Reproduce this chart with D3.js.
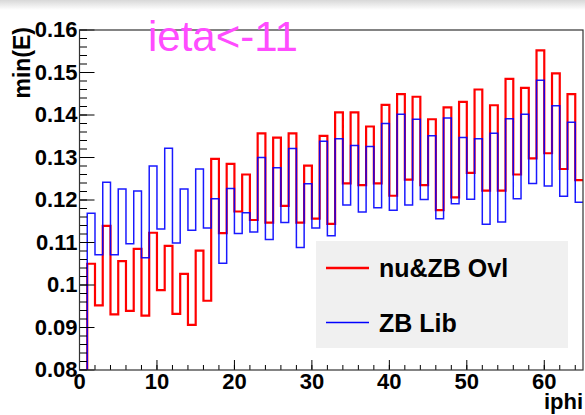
<!DOCTYPE html>
<html>
<head>
<meta charset="utf-8">
<script src="https://cdn.jsdelivr.net/npm/d3@7"></script>
<style>
  body { margin: 0; background: #fff; }
  text { font-family: "Liberation Sans", Arial, Helvetica, sans-serif; }
</style>
</head>
<body>
<div id="chart"></div>
<script>
// bin 0 is empty, bins 1..64 are filled
const ovlValues = [0,
  0.105, 0.0952, 0.1139, 0.0931, 0.1056, 0.0939, 0.1085, 0.0928, 0.1123, 0.0988,
  0.1092, 0.0932, 0.1026, 0.0906, 0.1081, 0.0963, 0.1297, 0.1122, 0.1285, 0.1173,
  0.126, 0.1153, 0.1357, 0.1147, 0.1347, 0.1186, 0.1357, 0.1147, 0.1281, 0.1156,
  0.1351, 0.1144, 0.1406, 0.1239, 0.1406, 0.1235, 0.1373, 0.1239, 0.1424, 0.121,
  0.1449, 0.1248, 0.1443, 0.1235, 0.139, 0.1176, 0.1418, 0.1206, 0.1431, 0.1264,
  0.146, 0.1222, 0.1423, 0.1222, 0.1485, 0.126, 0.1464, 0.1298, 0.1552, 0.131,
  0.1498, 0.1273, 0.1449, 0.1247];
const libValues = [0,
  0.1169, 0.1071, 0.1242, 0.1071, 0.1226, 0.1097, 0.1221, 0.1064, 0.128, 0.1132,
  0.1322, 0.1099, 0.1226, 0.1129, 0.1273, 0.1134, 0.1203, 0.1051, 0.1227, 0.1121,
  0.117, 0.1125, 0.13, 0.1107, 0.1276, 0.1147, 0.1321, 0.1088, 0.1238, 0.1134,
  0.1338, 0.1116, 0.1344, 0.1188, 0.1328, 0.1172, 0.1326, 0.1182, 0.138, 0.1176,
  0.1402, 0.1188, 0.139, 0.1201, 0.1351, 0.1156, 0.1393, 0.1191, 0.1347, 0.1202,
  0.1344, 0.1143, 0.1357, 0.1148, 0.1391, 0.1203, 0.1402, 0.1239, 0.1482, 0.1233,
  0.1422, 0.1209, 0.1383, 0.1195];
const seriesNames = ['nu&ZB Ovl', 'ZB Lib'];
const xTicks = [0, 10, 20, 30, 40, 50, 60];
const yTicks = [0.08, 0.09, 0.1, 0.11, 0.12, 0.13, 0.14, 0.15, 0.16];
const yTickLabels = ['0.08', '0.09', '0.1', '0.11', '0.12', '0.13', '0.14', '0.15', '0.16'];

const W = 585, H = 415;
const margin = {top: 30, right: 2, bottom: 45, left: 79.5};

const svg = d3.select('#chart').append('svg')
  .attr('width', W).attr('height', H);

// faint window shadow along the top edge
const grad = svg.append('defs').append('linearGradient')
  .attr('id', 'topShade').attr('x1', 0).attr('y1', 0).attr('x2', 0).attr('y2', 1);
grad.append('stop').attr('offset', 0).attr('stop-color', '#d8d8d8');
grad.append('stop').attr('offset', 1).attr('stop-color', '#fff');
svg.append('rect').attr('width', W).attr('height', 10).attr('fill', 'url(#topShade)');

const x = d3.scaleLinear().domain([0, 65]).range([margin.left, W - margin.right]);
const y = d3.scaleLinear().domain([0.08, 0.16]).range([H - margin.bottom, margin.top]);

svg.append('defs').append('clipPath').attr('id', 'plotClip')
  .append('rect')
  .attr('x', x(0)).attr('y', y(0.16))
  .attr('width', x(65) - x(0)).attr('height', y(0.08) - y(0.16));

// step outline like a ROOT histogram
function histPath(values) {
  const clamp = v => Math.max(v, 0.08);
  let p = d3.path();
  p.moveTo(x(0), y(clamp(values[0])));
  values.forEach((v, i) => {
    p.lineTo(x(i), y(clamp(v)));
    p.lineTo(x(i + 1), y(clamp(v)));
  });
  return p.toString();
}

const plot = svg.append('g').attr('clip-path', 'url(#plotClip)');
plot.append('path').attr('d', histPath(ovlValues))
  .attr('fill', 'none').attr('stroke', '#ff0000').attr('stroke-width', 2.2);
plot.append('path').attr('d', histPath(libValues))
  .attr('fill', 'none').attr('stroke', '#0000ff').attr('stroke-width', 1.5)
  .attr('stroke-opacity', 0.9);

// axes
const xMinor = d3.range(0, 65, 2);
const yMinor = d3.range(0.08, 0.1601, 0.002);

const xAxis = svg.append('g').attr('transform', `translate(0,${y(0.08)})`);
xAxis.selectAll('.minor').data(xMinor).enter().append('line')
  .attr('x1', d => x(d)).attr('x2', d => x(d)).attr('y1', 0).attr('y2', -5)
  .attr('stroke', '#000');
xAxis.selectAll('.major').data(xTicks).enter().append('line')
  .attr('x1', d => x(d)).attr('x2', d => x(d)).attr('y1', 0).attr('y2', -10)
  .attr('stroke', '#000');
xAxis.selectAll('text').data(xTicks).enter().append('text')
  .attr('x', d => x(d)).attr('y', 19)
  .attr('text-anchor', 'middle').attr('font-size', 22).attr('font-weight', 'bold')
  .text(d => d);

const yAxis = svg.append('g').attr('transform', `translate(${x(0)},0)`);
yAxis.selectAll('.minor').data(yMinor).enter().append('line')
  .attr('x1', 0).attr('x2', 7.5).attr('y1', d => y(d)).attr('y2', d => y(d))
  .attr('stroke', '#000');
yAxis.selectAll('.major').data(yTicks).enter().append('line')
  .attr('x1', 0).attr('x2', 15).attr('y1', d => y(d)).attr('y2', d => y(d))
  .attr('stroke', '#000');
yAxis.selectAll('text').data(yTicks).enter().append('text')
  .attr('x', -2).attr('y', d => y(d) + 7)
  .attr('text-anchor', 'end').attr('font-size', 22).attr('font-weight', 'bold')
  .text((d, i) => yTickLabels[i]);

// frame
svg.append('rect')
  .attr('x', x(0)).attr('y', y(0.16))
  .attr('width', x(65) - x(0)).attr('height', y(0.08) - y(0.16))
  .attr('fill', 'none').attr('stroke', '#333').attr('stroke-width', 1.2);

// axis titles
svg.append('text').attr('x', x(65)).attr('y', 409)
  .attr('text-anchor', 'end').attr('font-size', 22).attr('font-weight', 'bold')
  .text('iphi');
svg.append('text')
  .attr('transform', `translate(30,${y(0.16) - 3}) rotate(-90)`)
  .attr('text-anchor', 'end').attr('font-size', 23).attr('font-weight', 'bold')
  .text('min(E)');

// title
svg.append('text').attr('x', 148).attr('y', 51)
  .attr('font-size', 42).attr('fill', '#ff4cff')
  .text('ieta<-11');

// legend
const legend = svg.append('g');
legend.append('rect')
  .attr('x', 316).attr('y', 241).attr('width', 252).attr('height', 107)
  .attr('fill', '#f0f0f0');
const legendColors = ['#ff0000', '#0000ff'];
const legendWidths = [2.5, 1.5];
seriesNames.forEach((name, i) => {
  const ly = 268 + i * 54.5;
  legend.append('line')
    .attr('x1', 326).attr('x2', 369).attr('y1', ly).attr('y2', ly)
    .attr('stroke', legendColors[i]).attr('stroke-width', legendWidths[i]);
  legend.append('text').attr('x', 379).attr('y', ly + 9)
    .attr('font-size', 25).attr('font-weight', 'bold')
    .text(name);
});
</script>
</body>
</html>
